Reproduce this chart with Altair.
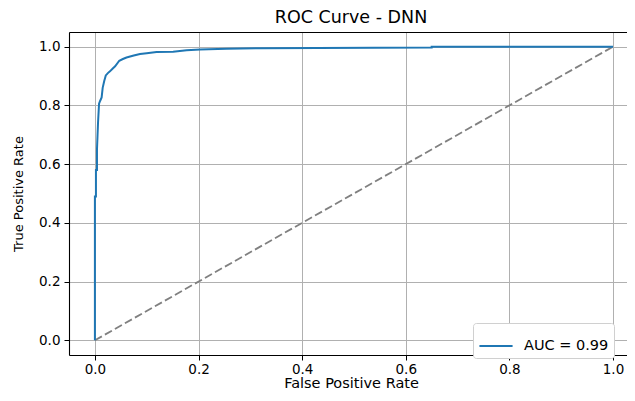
import altair as alt
import pandas as pd

# ROC curve points
fpr = [0.0, 0.0, 0.002, 0.002, 0.004, 0.004, 0.006, 0.008, 0.010, 0.013, 0.015,
       0.018, 0.021, 0.025, 0.029, 0.034, 0.039, 0.047, 0.054, 0.061, 0.075,
       0.087, 0.100, 0.119, 0.151, 0.177, 0.203, 0.254, 0.319, 0.650, 0.650, 1.0]
tpr = [0.0, 0.49, 0.49, 0.58, 0.58, 0.65, 0.74, 0.806, 0.815, 0.827, 0.86,
       0.883, 0.902, 0.910, 0.916, 0.925, 0.933, 0.952, 0.958, 0.963, 0.970,
       0.975, 0.978, 0.982, 0.983, 0.988, 0.990, 0.993, 0.995, 0.997, 1.0, 1.0]
legend_label = "AUC = 0.99"

diag_x = [0.0, 1.0]
diag_y = [0.0, 1.0]

tick_values = [0.0, 0.2, 0.4, 0.6, 0.8, 1.0]

roc = pd.DataFrame({"fpr": fpr, "tpr": tpr, "order": list(range(len(fpr))),
                    "label": [legend_label] * len(fpr)})
diag = pd.DataFrame({"fpr": diag_x, "tpr": diag_y})

FONT = "DejaVu Sans"
xscale = alt.Scale(domain=[-0.05, 1.027], nice=False, zero=False)
yscale = alt.Scale(domain=[-0.05, 1.05], nice=False, zero=False)

x_axis = alt.Axis(values=tick_values, format=".1f", title="False Positive Rate",
                  grid=True, gridColor="#b0b0b0", gridWidth=1,
                  domainColor="black", domainWidth=1.1, tickColor="black",
                  tickSize=5, tickWidth=1, labelFontSize=13.5, labelColor="black",
                  labelFont=FONT, labelPadding=2, titleFont=FONT, titleFontSize=14.5,
                  titleFontWeight="normal", titleColor="black", titlePadding=1,
                  titleX=282, labelFlush=False)
y_axis = alt.Axis(values=tick_values, format=".1f", title="True Positive Rate",
                  grid=True, gridColor="#b0b0b0", gridWidth=1,
                  domainColor="black", domainWidth=1.1, tickColor="black",
                  tickSize=5, tickWidth=1, labelFontSize=13.5, labelColor="black",
                  labelFont=FONT, labelPadding=4, titleFont=FONT, titleFontSize=13,
                  titleFontWeight="normal", titleColor="black", titlePadding=13,
                  labelFlush=False)

curve = alt.Chart(roc).mark_line(strokeWidth=2, interpolate="linear").encode(
    x=alt.X("fpr:Q", scale=xscale, axis=x_axis),
    y=alt.Y("tpr:Q", scale=yscale, axis=y_axis),
    order="order:Q",
    color=alt.Color("label:N",
                    scale=alt.Scale(domain=[legend_label], range=["#1f77b4"]),
                    legend=alt.Legend(title=None, orient="none", legendX=404, legendY=291,
                                      symbolType="stroke", symbolStrokeWidth=2,
                                      symbolSize=1100, labelFontSize=14.5, labelFont=FONT,
                                      labelColor="black", fillColor="white",
                                      strokeColor="#d0d0d0", cornerRadius=3,
                                      padding=5, labelOffset=10)),
)

diag_layer = alt.Chart(diag).mark_line(color="#808080", strokeWidth=1.8,
                                       strokeDash=[8, 3.5]).encode(
    x=alt.X("fpr:Q", scale=xscale,
            axis=alt.Axis(orient="top", labels=False, ticks=False, grid=False,
                          title=None, domainColor="black", domainWidth=1.1)),
    y=alt.Y("tpr:Q", scale=yscale),
)

chart = alt.layer(diag_layer, curve).resolve_axis(x="independent").properties(
    width=558, height=323,
    title=alt.TitleParams("ROC Curve - DNN", font=FONT, fontSize=17.5,
                          fontWeight="normal", color="black", anchor="middle",
                          offset=6, dx=3),
    autosize=alt.AutoSizeParams(type="none"),
    padding={"left": 61, "top": 24, "right": 0, "bottom": 38},
).configure_view(stroke=None).configure(background="white")

chart.save("out.html", embed_options={"renderer": "svg", "actions": False})
